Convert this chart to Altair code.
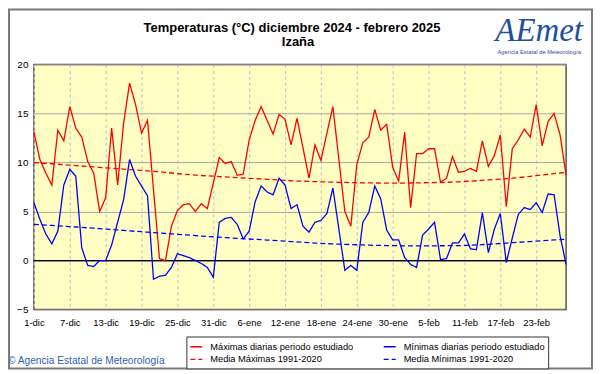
import altair as alt
import pandas as pd

# ---- data ----
dias = list(range(90))  # 1-dic-2024 .. 28-feb-2025

maximas = [13.1, 10.3, 8.9, 7.7, 13.3, 12.2, 15.7, 13.5, 12.6, 10.1,
           8.9, 5.0, 6.4, 13.5, 7.7, 14.0, 18.1, 15.9, 13.0, 14.3,
           7.2, 0.2, 0.0, 3.5, 5.1, 5.7, 5.8, 5.0, 5.8, 5.3,
           7.9, 10.5, 9.9, 10.1, 8.7, 8.8, 12.3, 14.3, 15.7, 14.3,
           12.9, 14.9, 14.4, 11.8, 14.5, 11.5, 8.4, 11.8, 10.2, 13.0,
           15.7, 10.3, 5.0, 3.5, 9.8, 12.0, 12.6, 15.4, 13.3, 13.9,
           9.5, 8.1, 13.1, 5.4, 10.9, 10.9, 11.4, 11.4, 8.0, 8.4,
           10.6, 9.0, 9.1, 9.4, 9.1, 12.2, 9.6, 10.7, 12.8, 5.5,
           11.4, 12.3, 13.4, 12.6, 15.9, 11.7, 14.2, 15.0, 12.8, 8.7]

minimas = [5.9, 4.2, 2.7, 1.7, 3.0, 7.7, 9.3, 8.6, 1.3, -0.5,
           -0.6, 0.0, 0.0, 1.6, 3.9, 6.2, 10.3, 8.6, 7.6, 6.6,
           -1.9, -1.6, -1.5, -0.7, 0.7, 0.5, 0.3, 0.0, -0.3, -0.7,
           -1.7, 3.9, 4.3, 4.4, 3.7, 2.2, 3.0, 6.0, 7.6, 7.0,
           6.7, 8.4, 7.7, 5.3, 5.7, 3.5, 2.9, 3.9, 4.1, 4.8,
           7.4, 3.2, -1.0, -0.5, -1.0, 3.9, 4.9, 7.6, 6.3, 3.1,
           2.1, 2.1, 0.3, -0.4, -0.7, 2.6, 3.2, 3.9, 0.1, 0.2,
           1.8, 1.8, 2.7, 1.2, 1.1, 4.9, 0.8, 3.2, 4.8, -0.2,
           2.3, 4.7, 5.4, 5.2, 5.9, 4.9, 6.8, 6.7, 2.5, -0.4]

media_max = [10.00, 9.96, 9.91, 9.87, 9.82, 9.78, 9.73, 9.69, 9.64, 9.60,
             9.55, 9.51, 9.46, 9.42, 9.37, 9.33, 9.28, 9.24, 9.19, 9.15,
             9.10, 9.05, 8.99, 8.93, 8.87, 8.81, 8.76, 8.71, 8.67, 8.64,
             8.60, 8.56, 8.53, 8.49, 8.46, 8.42, 8.39, 8.35, 8.32, 8.28,
             8.25, 8.21, 8.17, 8.14, 8.11, 8.09, 8.07, 8.05, 8.03, 8.01,
             8.00, 7.98, 7.97, 7.95, 7.94, 7.93, 7.92, 7.91, 7.90, 7.90,
             7.90, 7.90, 7.90, 7.91, 7.92, 7.93, 7.94, 7.95, 7.97, 7.98,
             8.00, 8.03, 8.06, 8.10, 8.14, 8.18, 8.22, 8.27, 8.31, 8.36,
             8.40, 8.46, 8.52, 8.59, 8.66, 8.73, 8.80, 8.86, 8.93, 9.00]

media_min = [3.70, 3.66, 3.62, 3.58, 3.54, 3.50, 3.46, 3.42, 3.38, 3.34,
             3.30, 3.25, 3.21, 3.16, 3.12, 3.07, 3.03, 2.98, 2.94, 2.89,
             2.85, 2.81, 2.76, 2.72, 2.68, 2.63, 2.59, 2.55, 2.50, 2.46,
             2.42, 2.38, 2.34, 2.30, 2.26, 2.23, 2.20, 2.16, 2.13, 2.09,
             2.06, 2.02, 1.98, 1.94, 1.90, 1.86, 1.82, 1.78, 1.75, 1.72,
             1.70, 1.67, 1.65, 1.63, 1.61, 1.59, 1.57, 1.55, 1.54, 1.53,
             1.52, 1.51, 1.50, 1.50, 1.50, 1.50, 1.50, 1.50, 1.51, 1.51,
             1.52, 1.53, 1.54, 1.56, 1.59, 1.62, 1.66, 1.70, 1.74, 1.78,
             1.82, 1.86, 1.90, 1.94, 1.98, 2.02, 2.06, 2.10, 2.14, 2.18]

etiquetas_x = ["1-dic", "7-dic", "13-dic", "19-dic", "25-dic", "31-dic",
               "6-ene", "12-ene", "18-ene", "24-ene", "30-ene",
               "5-feb", "11-feb", "17-feb", "23-feb"]
ticks_x = list(range(0, 90, 6))
ticks_y = [-5, 0, 5, 10, 15, 20]

# legend is filled column by column: col 1 = Máximas, col 2 = Mínimas
series = ["Máximas diarias periodo estudiado",
          "Media Máximas 1991-2020",
          "Mínimas diarias periodo estudiado",
          "Media Mínimas 1991-2020"]
colores = ["#FF0000", "#FF0000", "#0000FF", "#0000FF"]
guiones = [[1, 0], [5, 3], [1, 0], [5, 3]]

titulo1 = "Temperaturas (°C) diciembre 2024 - febrero 2025"
titulo2 = "Izaña"
copyright_txt = "© Agencia Estatal de Meteorología"

# ---- long table ----
valores = {series[0]: maximas, series[1]: media_max,
           series[2]: minimas, series[3]: media_min}
rows = []
for nombre in series:
    for d, v in zip(dias, valores[nombre]):
        rows.append({"dia": d, "temp": v, "serie": nombre})
df = pd.DataFrame(rows)

W, H = 534, 246
FONT = "Liberation Sans"

label_expr = "[" + ",".join("'%s'" % e for e in etiquetas_x) + "][round(datum.value/6)]"

x_enc = alt.X("dia:Q",
              scale=alt.Scale(domain=[0, 89], nice=False, zero=False),
              axis=alt.Axis(values=ticks_x, labelExpr=label_expr, title=None,
                            grid=True, gridDash=[3, 3], gridColor="#C8C8C8",
                            gridWidth=1.2, ticks=False, domain=False,
                            labelFlush=False, labelOverlap=False,
                            labelPadding=8, labelFontSize=9.5, labelColor="black",
                            labelFont=FONT))
y_enc = alt.Y("temp:Q",
              scale=alt.Scale(domain=[-5, 20], nice=False, zero=False),
              axis=alt.Axis(values=ticks_y, title=None, grid=True,
                            gridColor="#A8A8A8", gridWidth=1, ticks=False,
                            labelFlush=False,
                            domain=False, labelPadding=6, labelFontSize=10,
                            labelColor="black", labelFont=FONT))

leyenda = alt.Legend(title=None, orient="none", legendX=153, legendY=273,
                     columns=2, columnPadding=27, rowPadding=0, padding=3,
                     symbolType="stroke", symbolSize=144, symbolStrokeWidth=1.4,
                     labelFont=FONT, labelFontSize=9.3, labelColor="black",
                     labelOffset=7, strokeColor="#333333", fillColor="white",
                     cornerRadius=0)

lineas = alt.Chart(df).mark_line(strokeWidth=1.3).encode(
    x=x_enc,
    y=y_enc,
    color=alt.Color("serie:N", scale=alt.Scale(domain=series, range=colores), legend=leyenda),
    strokeDash=alt.StrokeDash("serie:N", scale=alt.Scale(domain=series, range=guiones), legend=leyenda),
    order=alt.Order("dia:Q"),
)

cero = alt.Chart(pd.DataFrame({"y": [0]})).mark_rule(color="black", strokeWidth=1.2).encode(y="y:Q")


def texto(t, x, y, size, **kw):
    return alt.Chart(pd.DataFrame({"t": [t]})).mark_text(
        fontSize=size, font=kw.pop("font", FONT), **kw
    ).encode(text="t:N", x=alt.value(x), y=alt.value(y))


t1 = texto(titulo1, 259, -33, 13, fontWeight="bold", align="center", baseline="alphabetic", color="black")
t2 = texto(titulo2, 265, -18, 13, fontWeight="bold", align="center", baseline="alphabetic", color="black")
logo = texto("AEmet", 507, -24, 33, font="Liberation Serif", fontStyle="italic",
             align="center", baseline="alphabetic", color="#1F4F9F")
logo2 = texto("Agencia Estatal de Meteorología", 507, -10.5, 5.8, align="center",
              baseline="alphabetic", color="#1F4F9F")
cop = texto(copyright_txt, -26, 301, 10.2, align="left", baseline="alphabetic", color="#2F5FAF")

marco = alt.Chart(pd.DataFrame({"a": [1]})).mark_rect(
    fillOpacity=0, stroke="#7A7A7A", strokeWidth=2
).encode(x=alt.value(-25), x2=alt.value(560), y=alt.value(-55), y2=alt.value(305))

chart = alt.layer(cero, lineas, t1, t2, logo, logo2, cop, marco).properties(
    width=W, height=H,
    padding={"left": 26, "top": 56, "right": 27, "bottom": 60},
    autosize=alt.AutoSizeParams(type="none"),
).configure(background="white", font=FONT).configure_view(
    fill="#FFFFC4", stroke="#555555", strokeWidth=1.5
)

chart.save("out.html", embed_options={"renderer": "svg", "actions": False})
